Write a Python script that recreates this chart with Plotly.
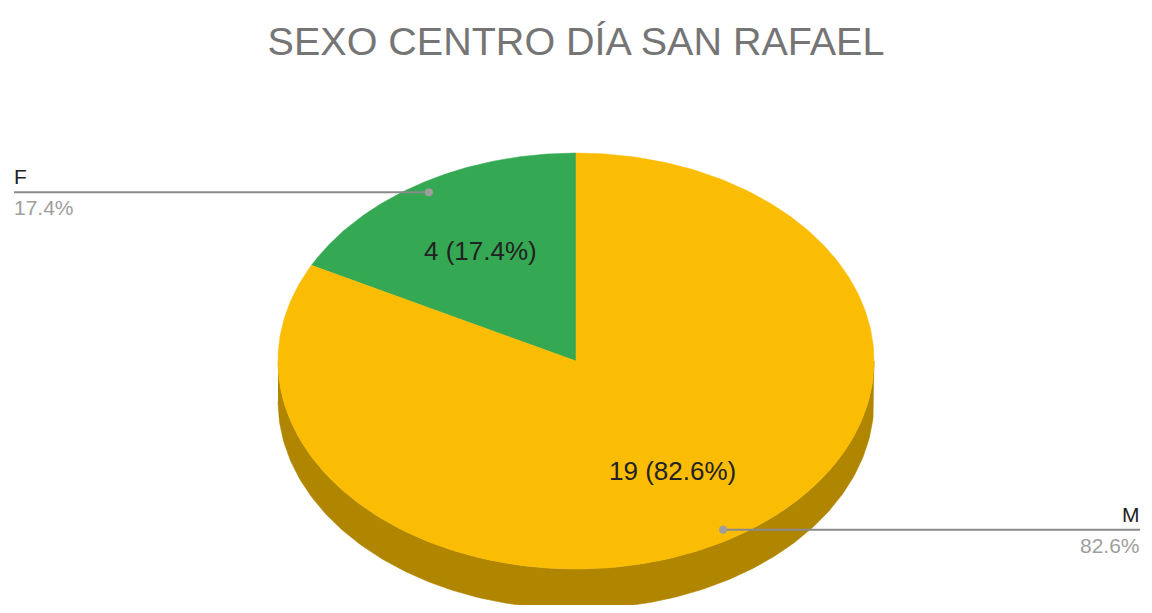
import numpy as np
import plotly.graph_objects as go

# datos
sexo = ["F", "M"]
personas = [4, 19]
colores = ["#34A853", "#FBBC04"]
colores_lado = ["#1F7A3A", "#B08500"]

titulo = "SEXO CENTRO DÍA SAN RAFAEL"

# la pagina tiene 8px de margen en el body: se trabaja en pixeles de pagina
W, H = 1152, 613
M8 = 8
cx, cy = 576, 361
rx, ry = 298, 208
prof = 40
fuente = "Liberation Sans, Arial, sans-serif"


def punto(ang, r=1.0):
    # angulo en grados, medido desde arriba en sentido antihorario
    t = np.radians(ang)
    return cx - r * rx * np.sin(t), cy - r * ry * np.cos(t)


total = sum(personas)
pct = [v / total for v in personas]
inicios = np.concatenate([[0], np.cumsum(pct)[:-1]]) * 360
fines = np.cumsum(pct) * 360

fig = go.Figure()

# lado visible (mitad frontal: de 90 a 270 grados)
for a0, a1, c in zip(inicios, fines, colores_lado):
    b0, b1 = max(a0, 90), min(a1, 270)
    if b1 <= b0:
        continue
    angs = np.linspace(b0, b1, 200)
    xs, ys = punto(angs)
    px = np.concatenate([xs, xs[::-1]])
    py = np.concatenate([ys, ys[::-1] + prof])
    fig.add_trace(go.Scatter(x=px, y=py, fill="toself", mode="lines",
                             line=dict(width=0.5, color=c), fillcolor=c,
                             hoverinfo="skip", showlegend=False))

# cara superior
for a0, a1, c in zip(inicios, fines, colores):
    angs = np.linspace(a0, a1, 300)
    xs, ys = punto(angs)
    px = np.concatenate([[cx], xs, [cx]])
    py = np.concatenate([[cy], ys, [cy]])
    fig.add_trace(go.Scatter(x=px, y=py, fill="toself", mode="lines",
                             line=dict(width=0.5, color=c), fillcolor=c,
                             hoverinfo="skip", showlegend=False))

# etiquetas internas
for v, p, a0, a1 in zip(personas, pct, inicios, fines):
    x, y = punto((a0 + a1) / 2, 0.62)
    fig.add_annotation(x=x, y=y, text=f"{v} ({p*100:.1f}%)", showarrow=False,
                       font=dict(size=26, color="#222222", family=fuente),
                       xanchor="center", yanchor="middle")

# lineas guia y leyenda exterior
for nombre, p, a0, a1 in zip(sexo, pct, inicios, fines):
    x, y = punto((a0 + a1) / 2, 0.95)
    izquierda = x < cx
    xf = 14 if izquierda else 1140
    fig.add_trace(go.Scatter(x=[x, xf], y=[y, y], mode="lines",
                             line=dict(color="#8a8a8a", width=2),
                             hoverinfo="skip", showlegend=False))
    fig.add_trace(go.Scatter(x=[x], y=[y], mode="markers",
                             marker=dict(color="#9e9e9e", size=8),
                             hoverinfo="skip", showlegend=False))
    anc = "left" if izquierda else "right"
    xt = xf - 2 if izquierda else xf + 2
    fig.add_annotation(x=xt, y=y - 2, text=nombre, showarrow=False,
                       font=dict(size=21, color="#222222", family=fuente),
                       xanchor=anc, yanchor="bottom")
    fig.add_annotation(x=xt, y=y + 2, text=f"{p*100:.1f}%", showarrow=False,
                       font=dict(size=21, color="#9e9e9e", family=fuente),
                       xanchor=anc, yanchor="top")

fig.update_layout(
    width=W - 2 * M8, height=H - 2 * M8,
    margin=dict(l=0, r=0, t=0, b=0),
    paper_bgcolor="white", plot_bgcolor="white",
    title=dict(text=titulo, x=0.5, xanchor="center",
               y=1 - (41 - M8) / (H - 2 * M8), yanchor="middle", yref="container",
               font=dict(size=39.5, color="#757575", family=fuente)),
    xaxis=dict(range=[M8, W - M8], visible=False, fixedrange=True),
    yaxis=dict(range=[H - M8, M8], visible=False, fixedrange=True),
)

fig.write_html("out.html")
